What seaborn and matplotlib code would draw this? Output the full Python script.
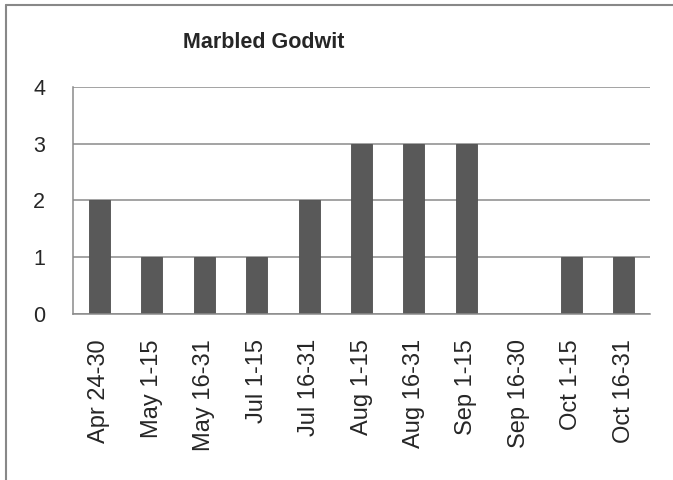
import pandas as pd
import numpy as np
import seaborn as sns
import matplotlib.pyplot as plt
from matplotlib.lines import Line2D
from matplotlib.ticker import FixedLocator

# data
periods = ['Apr 24-30', 'May 1-15', 'May 16-31', 'Jul 1-15', 'Jul 16-31',
           'Aug 1-15', 'Aug 16-31', 'Sep 1-15', 'Sep 16-30', 'Oct 1-15', 'Oct 16-31']
counts = [2, 1, 1, 1, 2, 3, 3, 3, 0, 1, 1]
y_ticks = [0, 1, 2, 3, 4]
title = 'Marbled Godwit'

df = pd.DataFrame({'period': periods, 'count': counts})

sns.set_style('white')
plt.rcParams['font.family'] = ['Liberation Sans', 'DejaVu Sans']

fig = plt.figure(figsize=(6.73, 4.8), dpi=100)
ax = fig.add_axes([0.1085, 0.3458, 0.8573, 0.473])

sns.barplot(data=df, x='period', y='count', color='#595959', width=0.4,
            saturation=1, edgecolor='#505050', linewidth=0.6, ax=ax)

ax.set_xlim(-0.5, len(periods) - 0.5)
ax.set_ylim(0, 4)
ax.set_yticks(y_ticks)
ax.yaxis.grid(True, color='#8a8a8a', linewidth=1.1)
ax.set_axisbelow(True)
for s in ['top', 'right']:
    ax.spines[s].set_visible(False)
ax.spines['left'].set_color('#8a8a8a')
ax.spines['bottom'].set_color('#8a8a8a')
ax.spines['left'].set_linewidth(1.1)
ax.spines['bottom'].set_linewidth(1.1)

# x tick marks sit between categories
ax.xaxis.set_minor_locator(FixedLocator(np.arange(-0.5, len(periods), 1)))
ax.tick_params(axis='x', which='major', length=0, pad=18, labelsize=17, labelrotation=90)
ax.tick_params(axis='x', which='minor', length=6, width=1.1, color='#8a8a8a', direction='out')
ax.tick_params(axis='y', length=6, width=1.1, color='#8a8a8a', direction='out',
               labelsize=15.5, pad=14)
ax.set_xlabel('')
ax.set_ylabel('')

fig.text(0.392, 0.912, title, ha='center', va='center', fontsize=15.5, fontweight='bold')

# chart border: only top and left edges are visible in the crop
fig.lines.append(Line2D([5.5 / 673, 1.0], [1 - 4.5 / 480, 1 - 4.5 / 480],
                        transform=fig.transFigure, color='#888888', linewidth=1.5))
fig.lines.append(Line2D([5.5 / 673, 5.5 / 673], [0.0, 1 - 4.5 / 480],
                        transform=fig.transFigure, color='#888888', linewidth=1.5))

fig.savefig('out.png', dpi=100)
